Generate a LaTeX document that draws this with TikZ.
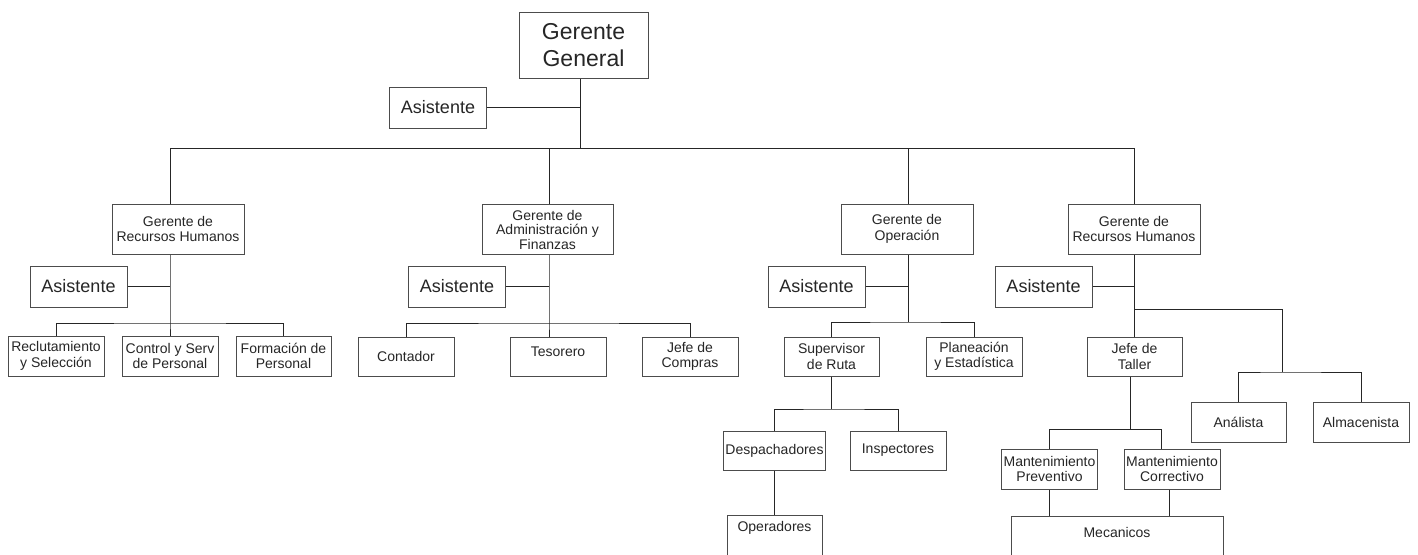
\documentclass[tikz,border=0pt]{standalone}
\usepackage{fontspec}
\setmainfont{Liberation Sans}
\usepackage{tikz}
\usetikzlibrary{calc}

\begin{document}
\begin{tikzpicture}[x=1pt,y=-1pt]
\tikzstyle{puesto}=[draw=black!70,line width=1pt,fill=white,text=black!85,font=\fontsize{14}{15.5}\selectfont,align=center,inner sep=2pt,minimum width=96pt,minimum height=40pt]
\tikzstyle{asistente}=[puesto,font=\fontsize{18}{20}\selectfont,minimum width=97pt,minimum height=41pt]
\tikzstyle{gerente}=[puesto,minimum width=132pt,minimum height=50pt]
\tikzstyle{abierto}=[puesto,anchor=north,inner ysep=3pt,text depth=60pt]
\tikzstyle{linea}=[line width=1pt,black!85]
\useasboundingbox (0,0) rectangle (1418,554);
\clip (0,0) rectangle (1418,554);

% direccion
\node[puesto,font=\fontsize{23}{27}\selectfont,minimum width=129pt,minimum height=66pt] (GG) at (583.5,45) {Gerente\\General};
\node[asistente] (A_0) at (438,107.5) {Asistente};

% gerencias
\node[gerente] (RH_1) at (178,229) {Gerente de\\Recursos Humanos};
\node[gerente,minimum width=131pt,font=\fontsize{14}{14.5}\selectfont] (AF) at (547.5,229.5) {Gerente de\\Administración y\\Finanzas};
\node[gerente] (OP) at (907,229) {Gerente de\\Operación};
\node[gerente] (RH_2) at (1134,229) {Gerente de\\Recursos Humanos};

\node[asistente] (A_1) at (78.5,286.5) {Asistente};
\node[asistente] (A_2) at (457,286.5) {Asistente};
\node[asistente] (A_3) at (816.5,286.5) {Asistente};
\node[asistente] (A_4) at (1043.5,286.5) {Asistente};

% recursos humanos
\node[puesto] (REC) at (56,356) {Reclutamiento\\y Selección};
\node[puesto] (CSP) at (170,356) {Control y Serv\\de Personal};
\node[puesto,minimum width=95pt] (FP) at (283.5,356) {Formación de\\Personal};

% administracion
\node[puesto,minimum height=39pt] (CON) at (406,356.5) {Contador};
\node[puesto,minimum height=39pt,text depth=9pt] (TES) at (558,356.5) {Tesorero};
\node[puesto,minimum height=39pt] (JC) at (690,356.5) {Jefe de\\Compras};

% operacion
\node[puesto,minimum width=95pt,minimum height=39pt] (SR) at (831.5,356.5) {Supervisor\\de Ruta};
\node[puesto,minimum height=39pt] (PE) at (974,356.5) {Planeación\\y Estadística};
\node[puesto,minimum width=95pt,minimum height=39pt] (DE) at (774.5,450.5) {Despachadores};
\node[puesto,minimum height=39pt] (IN) at (898,450.5) {Inspectores};
\node[abierto,minimum width=95pt,text height=13pt] (OPE) at (774.5,515) {Operadores};

% taller
\node[puesto,minimum width=95pt,minimum height=39pt] (JT) at (1134.5,356.5) {Jefe de\\Taller};
\node[puesto,minimum width=95pt] (AN) at (1238.5,422) {Análista};
\node[puesto] (AL) at (1361,422) {Almacenista};
\node[puesto,minimum width=95pt] (MP) at (1049.5,469) {Mantenimiento\\Preventivo};
\node[puesto] (MC) at (1172,469) {Mantenimiento\\Correctivo};
\node[abierto,minimum width=212pt,text height=18pt] (MEC) at (1117,516) {Mecanicos};

% lineas
\coordinate (J_0) at (580,148);
\coordinate (J_1) at (170,148);
\coordinate (J_2) at (549,148);
\coordinate (J_3) at (908,148);
\coordinate (J_4) at (1134,148);
\draw[linea] (GG.south -| J_0) -- (J_0);
\draw[linea] (A_0.east) -- (A_0.east -| J_0);
\draw[linea] (J_1) -- (J_4);
\draw[linea] (J_1) -- (J_1 |- RH_1.north);
\draw[linea] (J_2) -- (J_2 |- AF.north);
\draw[linea] (J_3) -- (J_3 |- OP.north);
\draw[linea] (J_4) -- (J_4 |- RH_2.north);

\coordinate (K_1) at (170,323);
\draw[linea] (RH_1.south -| K_1) -- (K_1) -- (CSP.north);
\draw[linea] (A_1.east) -- (A_1.east -| K_1);
\draw[linea] (REC.north) |- (K_1) -| (FP.north);

\coordinate (K_2) at (549,323);
\draw[linea] (AF.south -| K_2) -- (K_2) -- (K_2 |- TES.north);
\draw[linea] (A_2.east) -- (A_2.east -| K_2);
\draw[linea] (CON.north) |- (K_2) -| (JC.north);

\coordinate (K_3) at (908,322);
\draw[linea] (OP.south -| K_3) -- (K_3);
\draw[linea] (A_3.east) -- (A_3.east -| K_3);
\draw[linea] (SR.north) |- (K_3) -| (PE.north);
\coordinate (K_5) at (831.5,409);
\draw[linea] (SR.south) -- (K_5);
\draw[linea] (DE.north) |- (K_5) -| (IN.north);
\draw[linea] (DE.south) -- (OPE.north);

\coordinate (K_4) at (1134,309);
\coordinate (K_6) at (1282,372);
\draw[linea] (RH_2.south) -- (JT.north -| RH_2.south);
\draw[linea] (A_4.east) -- (A_4.east -| K_4);
\draw[linea] (K_4) -| (K_6);
\draw[linea] (AN.north) |- (K_6) -| (AL.north);
\coordinate (K_7) at (1130,429);
\coordinate (K_8) at (1161,429);
\coordinate (K_9) at (1169,500);
\draw[linea] (JT.south -| K_7) -- (K_7);
\draw[linea] (MP.north) |- (K_8) -- (K_8 |- MC.north);
\draw[linea] (MP.south) -- (MP.south |- MEC.north);
\draw[linea] (MC.south -| K_9) -- (MEC.north -| K_9);
\end{tikzpicture}
\end{document}
